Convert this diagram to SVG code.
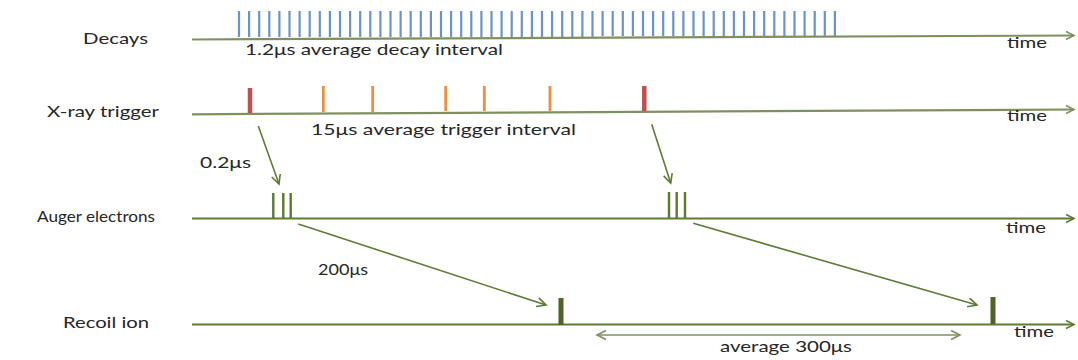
<svg xmlns="http://www.w3.org/2000/svg" width="1078" height="360" viewBox="0 0 1078 360">
<style>
  text { font-family: Lato, "Open Sans", "Liberation Sans", sans-serif; font-size: 15px; fill: #262626; }
  .axis1 { stroke: #7f9060; stroke-width: 2.2; fill: none; }
  .axis2 { stroke: #5f7a32; stroke-width: 2; fill: none; }
  .decay { stroke: #6b93c8; stroke-width: 2.2; fill: none; }
  .red { stroke: #c0504d; stroke-width: 4.5; fill: none; }
  .orange { stroke: #f08e40; stroke-width: 2.8; fill: none; }
  .auger { stroke: #5a7a2e; stroke-width: 2.4; fill: none; }
  .recoil { stroke: #4f6228; stroke-width: 5; fill: none; }
  .conn { stroke: #5e7a35; stroke-width: 1.6; fill: none; }
</style>
<defs>
  <marker id="chev" markerUnits="userSpaceOnUse" markerWidth="12" markerHeight="12" viewBox="0 0 12 12" refX="10" refY="6" orient="auto">
    <path d="M1,1.5 L10,6 L1,10.5" fill="none" stroke="#5e7a35" stroke-width="1.6"/>
  </marker>
  <marker id="chevS" markerUnits="userSpaceOnUse" markerWidth="12" markerHeight="12" viewBox="0 0 12 12" refX="10" refY="6" orient="auto-start-reverse">
    <path d="M1,1.5 L10,6 L1,10.5" fill="none" stroke="#7f9060" stroke-width="1.6"/>
  </marker>
  <marker id="chevA1" markerUnits="userSpaceOnUse" markerWidth="12" markerHeight="12" viewBox="0 0 12 12" refX="10" refY="6" orient="auto">
    <path d="M2,2 L10,6 L2,10" fill="none" stroke="#7f9060" stroke-width="1.5"/>
  </marker>
  <marker id="chevA2" markerUnits="userSpaceOnUse" markerWidth="12" markerHeight="12" viewBox="0 0 12 12" refX="10" refY="6" orient="auto">
    <path d="M2,2 L10,6 L2,10" fill="none" stroke="#5f7a32" stroke-width="1.5"/>
  </marker>
</defs>

<g id="decays">
  <text x="83" y="44" textLength="65" lengthAdjust="spacingAndGlyphs">Decays</text>
  <path class="axis1" d="M192,39.5 L1074,35.5" marker-end="url(#chevA1)"/>
  <path class="decay" d="M239,11V37 M249.1,11V37 M259.2,11V37 M269.3,11V37 M279.4,11V37 M289.5,11V37 M299.6,11V37 M309.7,11V37 M319.8,11V37 M329.9,11V37 M340,11V37 M350.1,11V37 M360.2,11V37 M370.3,11V37 M380.4,11V37 M390.5,11V37 M400.6,11V37 M410.7,11V37 M420.8,11V37 M430.9,11V37 M441,11V37 M451.1,11V37 M461.2,11V37 M471.3,11V37 M481.4,11V37 M491.5,11V37 M501.6,11V37 M511.7,11V37 M521.8,11V37 M531.9,11V37 M542,11V37 M552.1,11V37 M562.2,11V37 M572.3,11V37 M582.4,11V37 M592.5,11V37 M602.6,11V36 M612.7,11V36 M622.8,11V36 M632.9,11V36 M643,11V36 M653.1,11V36 M663.2,11V36 M673.3,11V36 M683.4,11V36 M693.5,11V36 M703.6,11V36 M713.7,11V36 M723.8,11V36 M733.9,11V36 M744,11V36 M754.1,11V36 M764.2,11V36 M774.3,11V36 M784.4,11V36 M794.5,11V36 M804.6,11V36 M814.7,11V36 M824.8,11V36 M834.9,11V36"/>
  <text x="245" y="55" textLength="258" lengthAdjust="spacingAndGlyphs">1.2μs average decay interval</text>
  <text x="1007" y="48" textLength="40" lengthAdjust="spacingAndGlyphs">time</text>
</g>

<g id="xray-trigger">
  <text x="47" y="117" textLength="112" lengthAdjust="spacingAndGlyphs">X-ray trigger</text>
  <path class="axis1" d="M192,114.3 L1074,109.5" marker-end="url(#chevA1)"/>
  <path class="red" d="M250,88V113 M644.3,86V111"/>
  <path class="orange" d="M323.3,86V112 M372.7,86V112 M445.7,86V111 M484.3,86V111 M550,86V111"/>
  <text x="311" y="135" textLength="265" lengthAdjust="spacingAndGlyphs">15μs average trigger interval</text>
  <text x="1007" y="121" textLength="40" lengthAdjust="spacingAndGlyphs">time</text>
</g>

<g id="auger-electrons">
  <text x="37" y="222" textLength="118" lengthAdjust="spacingAndGlyphs">Auger electrons</text>
  <path class="axis2" d="M192,218.5 L1074,218.5" marker-end="url(#chevA2)"/>
  <path class="auger" d="M273.3,193V218 M283.3,193V218 M290.7,193V218 M669,192V218 M676.7,192V218 M685,192V218"/>
  <text x="200" y="168" textLength="51" lengthAdjust="spacingAndGlyphs">0.2μs</text>
  <text x="1006" y="233" textLength="40" lengthAdjust="spacingAndGlyphs">time</text>
</g>

<g id="recoil-ion">
  <text x="63" y="328" textLength="86" lengthAdjust="spacingAndGlyphs">Recoil ion</text>
  <path class="axis2" d="M192,324.5 L1074,324.5" marker-end="url(#chevA2)"/>
  <path class="recoil" d="M561,298V325 M993,297V324"/>
  <text x="318" y="275" textLength="50" lengthAdjust="spacingAndGlyphs">200μs</text>
  <text x="1014" y="337" textLength="40" lengthAdjust="spacingAndGlyphs">time</text>
  <text x="720" y="352" textLength="132" lengthAdjust="spacingAndGlyphs">average 300μs</text>
</g>

<g id="connectors">
  <path class="conn" d="M258.3,126 L279,184" marker-end="url(#chev)"/>
  <path class="conn" d="M651.7,124.3 L670.7,183" marker-end="url(#chev)"/>
  <path class="conn" d="M298.3,224 L546,305" marker-end="url(#chev)"/>
  <path class="conn" d="M693.3,223.3 L977,305" marker-end="url(#chev)"/>
  <path d="M597,335 L960,335" stroke="#7f9060" stroke-width="1.6" fill="none" marker-start="url(#chevS)" marker-end="url(#chevS)"/>
</g>
</svg>
